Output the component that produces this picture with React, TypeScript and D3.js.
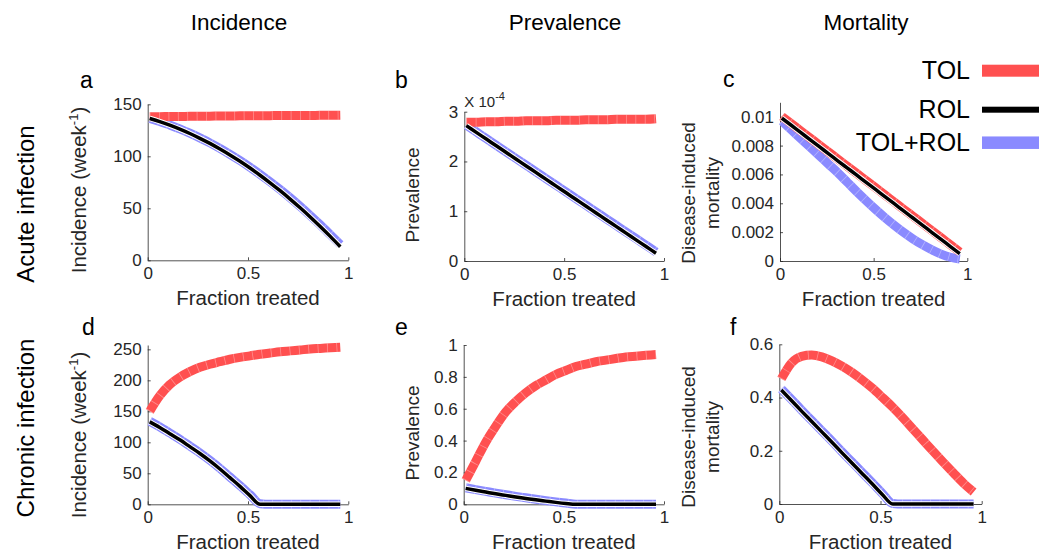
import React, { useEffect, useRef } from 'react';
import * as d3 from 'd3';

// fraction treated (x) shared by all curves
const fraction = [0.01, 0.06, 0.11, 0.16, 0.21, 0.26, 0.31, 0.36, 0.41, 0.46, 0.51, 0.56, 0.61, 0.66, 0.71, 0.76, 0.81, 0.86, 0.91, 0.96];

// a: acute incidence (week^-1)
const acuteIncTOL = [138.0, 138.1, 138.2, 138.3, 138.4, 138.5, 138.6, 138.7, 138.8, 138.9, 139.0, 139.0, 139.1, 139.2, 139.2, 139.3, 139.3, 139.4, 139.4, 139.5];
const acuteIncROL = [136.4, 133.4, 129.9, 126.1, 121.9, 117.3, 112.4, 107.0, 101.3, 95.2, 88.7, 81.8, 74.5, 66.9, 58.9, 50.5, 41.7, 32.5, 23.0, 13.0];
const acuteIncBoth = [136.5, 133.6, 130.1, 126.4, 122.2, 117.7, 112.9, 107.6, 101.9, 95.9, 89.5, 82.7, 75.5, 68.0, 60.1, 51.8, 43.1, 34.1, 24.7, 15.2];

// b: acute prevalence (x 10^-4)
const acutePrevTOL = [2.79, 2.79, 2.8, 2.8, 2.81, 2.81, 2.82, 2.82, 2.82, 2.83, 2.83, 2.83, 2.84, 2.84, 2.84, 2.85, 2.85, 2.85, 2.85, 2.86];
const acutePrevROL = [2.72, 2.585, 2.45, 2.315, 2.18, 2.045, 1.91, 1.775, 1.64, 1.505, 1.37, 1.235, 1.1, 0.965, 0.83, 0.695, 0.56, 0.425, 0.29, 0.155];
const acutePrevBoth = [2.73, 2.595, 2.46, 2.326, 2.192, 2.057, 1.923, 1.789, 1.655, 1.521, 1.387, 1.253, 1.119, 0.985, 0.851, 0.717, 0.583, 0.45, 0.316, 0.182];

// c: acute disease-induced mortality
const acuteMortTOL = [0.01002, 0.00953, 0.00903, 0.00854, 0.00804, 0.00755, 0.00705, 0.00656, 0.00607, 0.00557, 0.00508, 0.00458, 0.00409, 0.00359, 0.0031, 0.00261, 0.00211, 0.00162, 0.00112, 0.00063];
const acuteMortROL = [0.0099, 0.00941, 0.00891, 0.00842, 0.00792, 0.00743, 0.00693, 0.00644, 0.00595, 0.00545, 0.00496, 0.00446, 0.00397, 0.00347, 0.00298, 0.00249, 0.00199, 0.0015, 0.001, 0.00051];
const acuteMortBoth = [0.0097, 0.0091, 0.0085, 0.0079, 0.0073, 0.0067, 0.0061, 0.00545, 0.0048, 0.00418, 0.00358, 0.00301, 0.00248, 0.00198, 0.00153, 0.00113, 0.00078, 0.00048, 0.00026, 0.00014];

// d: chronic incidence (week^-1)
const chronIncTOL = [150, 175, 193, 205, 214, 221, 226, 230, 234, 237, 239.5, 242, 244, 246, 247.5, 249, 250.5, 251.5, 252.5, 253.5];
const chronIncROL = [133, 124, 114, 104, 93, 82, 70, 57, 43, 29, 14, 0, 0, 0, 0, 0, 0, 0, 0, 0];
const chronIncBoth = [134, 125, 115, 105, 94, 83, 71, 58, 44, 30, 15.5, 1, 0, 0, 0, 0, 0, 0, 0, 0];

// e: chronic prevalence
const chronPrevTOL = [0.15, 0.27, 0.39, 0.49, 0.58, 0.645, 0.7, 0.745, 0.78, 0.815, 0.84, 0.865, 0.88, 0.895, 0.905, 0.915, 0.925, 0.93, 0.935, 0.94];
const chronPrevROL = [0.1, 0.088, 0.077, 0.066, 0.056, 0.046, 0.037, 0.028, 0.02, 0.012, 0.005, 0, 0, 0, 0, 0, 0, 0, 0, 0];
const chronPrevBoth = [0.104, 0.092, 0.081, 0.07, 0.06, 0.05, 0.041, 0.032, 0.023, 0.015, 0.008, 0.001, 0, 0, 0, 0, 0, 0, 0, 0];

// f: chronic disease-induced mortality
const chronMortTOL = [0.47, 0.53, 0.555, 0.56, 0.553, 0.538, 0.518, 0.494, 0.466, 0.435, 0.4, 0.364, 0.324, 0.282, 0.24, 0.198, 0.157, 0.117, 0.078, 0.045];
const chronMortROL = [0.428, 0.389, 0.349, 0.31, 0.271, 0.232, 0.192, 0.153, 0.114, 0.075, 0.035, 0, 0, 0, 0, 0, 0, 0, 0, 0];
const chronMortBoth = [0.432, 0.393, 0.353, 0.314, 0.275, 0.236, 0.196, 0.157, 0.118, 0.079, 0.039, 0.002, 0, 0, 0, 0, 0, 0, 0, 0];

const xTicks = [0, 0.5, 1];
const columnTitles = ['Incidence', 'Prevalence', 'Mortality'];
const rowTitles = ['Acute infection', 'Chronic infection'];
const legendNames = ['TOL', 'ROL', 'TOL+ROL'];

const RED = '#ff5050';
const BLUE = '#8a8aff';
const INK = '#262626';
const FONT = '"Liberation Sans", Arial, Helvetica, sans-serif';

const fmtNum = (d: number) => String(+d.toFixed(4));

const panels = [
  { id: 'a', tol: acuteIncTOL, rol: acuteIncROL, both: acuteIncBoth, yMax: 150, yTicks: [0, 50, 100, 150], l: 147.7, r: 348.3, t: 104.3, b: 260.3, lab: [80, 88], ylab: 'inc', ylx: 86, yly: 190 },
  { id: 'b', tol: acutePrevTOL, rol: acutePrevROL, both: acutePrevBoth, yMax: 3, yTicks: [0, 1, 2, 3], l: 464.3, r: 664, t: 111.7, b: 261, lab: [395, 88], ylab: 'prev', ylx: 419, yly: 195 },
  { id: 'c', tol: acuteMortTOL, rol: acuteMortROL, both: acuteMortBoth, yMax: 0.011, yTicks: [0, 0.002, 0.004, 0.006, 0.008, 0.01], l: 780, r: 967.3, t: 102.3, b: 261, lab: [723, 87], ylab: 'mort', ylx: 695, yly: 193 },
  { id: 'd', tol: chronIncTOL, rol: chronIncROL, both: chronIncBoth, yMax: 257, yTicks: [0, 50, 100, 150, 200, 250], l: 147.7, r: 348.3, t: 345, b: 504.3, lab: [82, 335], ylab: 'inc', ylx: 86, yly: 435 },
  { id: 'e', tol: chronPrevTOL, rol: chronPrevROL, both: chronPrevBoth, yMax: 1, yTicks: [0, 0.2, 0.4, 0.6, 0.8, 1], l: 463.7, r: 664, t: 345, b: 504.3, lab: [395, 335], ylab: 'prev', ylx: 419, yly: 433 },
  { id: 'f', tol: chronMortTOL, rol: chronMortROL, both: chronMortBoth, yMax: 0.6, yTicks: [0, 0.2, 0.4, 0.6], l: 779.3, r: 981.7, t: 344.3, b: 504, lab: [730, 335], ylab: 'mort', ylx: 695, yly: 437 },
];

const App = () => {
  const svgRef = useRef<SVGSVGElement>(null);

  useEffect(() => {
    if (!svgRef.current) return;
    const svg = d3.select(svgRef.current);
    svg.selectAll('*').remove();
    svg.style('font-family', FONT);

    // column and row titles
    [239, 565, 866].forEach((cx, i) => {
      svg.append('text').attr('x', cx).attr('y', 30).attr('text-anchor', 'middle')
        .attr('font-size', 22.5).attr('fill', '#000').text(columnTitles[i]);
    });
    [204, 428].forEach((cy, i) => {
      svg.append('text').attr('transform', `translate(34,${cy}) rotate(-90)`)
        .attr('text-anchor', 'middle').attr('font-size', 24).attr('fill', '#000').text(rowTitles[i]);
    });

    panels.forEach(p => {
      const x = d3.scaleLinear().domain([0, 1]).range([p.l, p.r]);
      const y = d3.scaleLinear().domain([0, p.yMax]).range([p.b, p.t]);
      const g = svg.append('g');

      const xAxis = g.append('g').attr('transform', `translate(0,${p.b})`)
        .call(d3.axisBottom(x).tickValues(xTicks).tickSizeInner(-3).tickSizeOuter(0).tickPadding(7).tickFormat(d => fmtNum(+d)));
      const yAxis = g.append('g').attr('transform', `translate(${p.l},0)`)
        .call(d3.axisLeft(y).tickValues(p.yTicks).tickSizeInner(-3).tickSizeOuter(0).tickPadding(6).tickFormat(d => fmtNum(+d)));
      [xAxis, yAxis].forEach(ax => {
        ax.selectAll('path').attr('stroke', INK).attr('stroke-width', 0.8);
        ax.selectAll('line').attr('stroke', INK).attr('stroke-width', 0.8);
        ax.selectAll('text').attr('fill', INK).attr('font-size', 17).attr('font-family', FONT);
      });

      const line = d3.line<number>().x((_, i) => x(fraction[i])).y(d => y(d)).curve(d3.curveMonotoneX);

      // TOL+ROL
      g.append('path').attr('d', line(p.both)).attr('fill', 'none').attr('stroke', BLUE).attr('stroke-width', 9);
      g.append('path').attr('d', line(p.both)).attr('fill', 'none').attr('stroke', '#fff').attr('stroke-opacity', 0.35)
        .attr('stroke-width', 9).attr('stroke-dasharray', '0.8 8.6');
      // TOL
      g.append('path').attr('d', line(p.tol)).attr('fill', 'none').attr('stroke', RED).attr('stroke-width', 9);
      g.append('path').attr('d', line(p.tol)).attr('fill', 'none').attr('stroke', '#fff').attr('stroke-opacity', 0.35)
        .attr('stroke-width', 9).attr('stroke-dasharray', '0.8 8.6');
      // ROL
      g.append('path').attr('d', line(p.rol)).attr('fill', 'none').attr('stroke', '#fff').attr('stroke-width', 5.5);
      g.append('path').attr('d', line(p.rol)).attr('fill', 'none').attr('stroke', '#000').attr('stroke-width', 3.5);

      // x label
      g.append('text').attr('x', (p.l + p.r) / 2).attr('y', p.b + 45).attr('text-anchor', 'middle')
        .attr('font-size', 20.5).attr('fill', INK).text('Fraction treated');

      // y label
      const yl = g.append('text').attr('transform', `translate(${p.ylx},${p.yly}) rotate(-90)`)
        .attr('text-anchor', 'middle').attr('font-size', 19).attr('fill', INK);
      if (p.ylab === 'inc') {
        yl.attr('font-size', 20.5);
        yl.append('tspan').text('Incidence (week');
        yl.append('tspan').attr('font-size', 13).attr('dy', -8).text('-1');
        yl.append('tspan').attr('dy', 8).text(')');
      } else if (p.ylab === 'prev') {
        yl.text('Prevalence');
      } else {
        yl.append('tspan').attr('x', 0).attr('dy', -24).text('Disease-induced');
        yl.append('tspan').attr('x', 0).attr('dy', 24).text('mortality');
        yl.attr('transform', `translate(${p.ylx + 24},${p.yly}) rotate(-90)`);
      }

      // panel letter
      g.append('text').attr('x', p.lab[0]).attr('y', p.lab[1]).attr('font-size', 23).attr('fill', '#000').text(p.id);

      if (p.id === 'b') {
        const ex = g.append('text').attr('x', p.l).attr('y', p.t - 5).attr('font-size', 15).attr('fill', INK);
        ex.append('tspan').text('X 10');
        ex.append('tspan').attr('font-size', 11).attr('dy', -7).text('-4');
      }
    });

    // legend
    const legendColors = [RED, '#000', BLUE];
    const legendY = [70.7, 109.7, 142.7];
    const legendW = [12, 6, 12.5];
    legendNames.forEach((name, i) => {
      svg.append('text').attr('x', 970).attr('y', legendY[i] + 8.5).attr('text-anchor', 'end')
        .attr('font-size', 25).attr('fill', '#000').text(name);
      svg.append('rect').attr('x', 982).attr('y', legendY[i] - legendW[i] / 2).attr('width', 60)
        .attr('height', legendW[i]).attr('fill', legendColors[i]);
    });
  }, []);

  return (
    <div>
      <svg ref={svgRef} width={1039} height={558} style={{ position: 'absolute', left: 0, top: 0, background: '#fff' }} />
    </div>
  );
};

export default App;
